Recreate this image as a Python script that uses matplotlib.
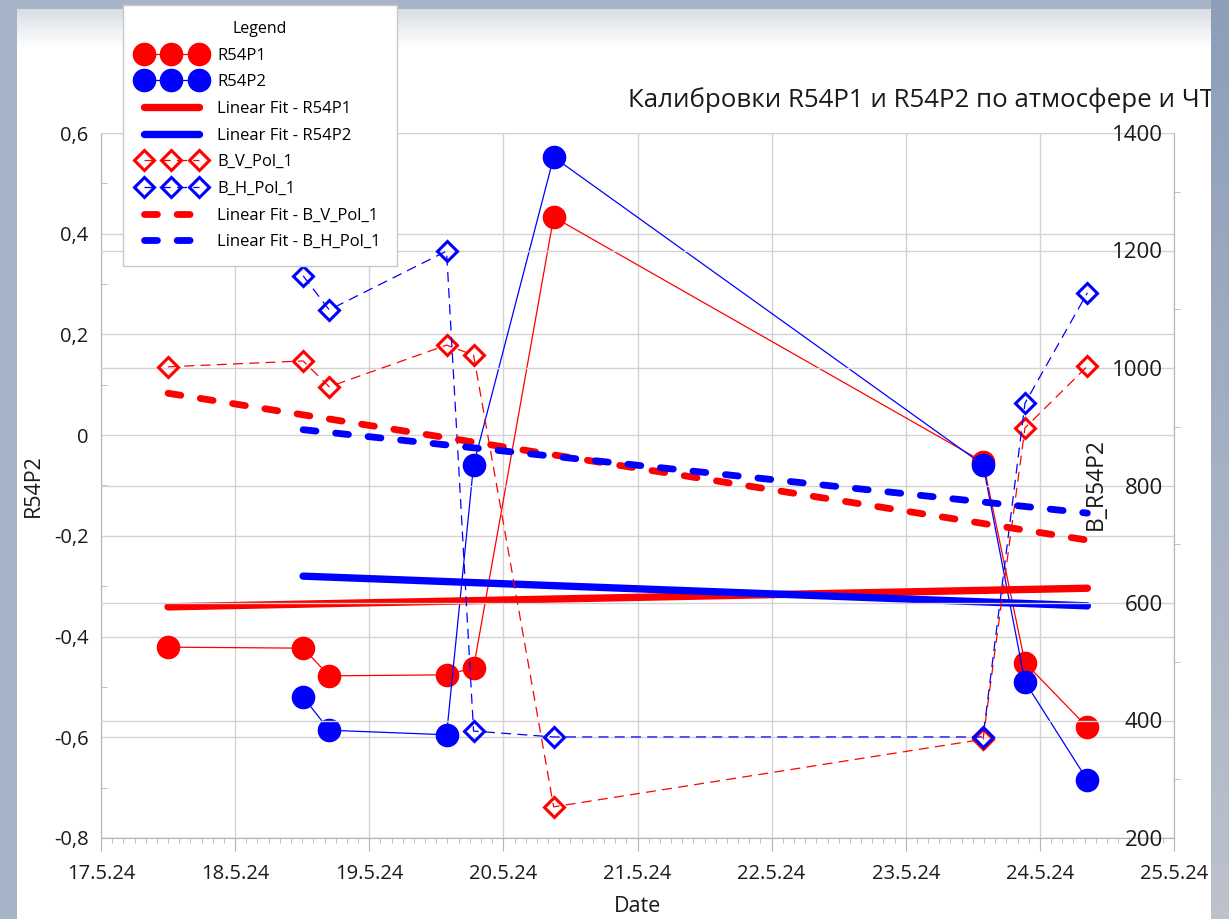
import matplotlib
matplotlib.use('Agg')
import matplotlib.pyplot as plt
import matplotlib.dates as mdates
import numpy as np
import pandas as pd
from matplotlib.ticker import MultipleLocator, FuncFormatter

# ---------------- data ----------------
r54p1_dates = ["2024-05-17 12:00", "2024-05-18 12:10", "2024-05-18 16:50",
               "2024-05-19 13:50", "2024-05-19 18:40", "2024-05-20 09:00",
               "2024-05-23 13:50", "2024-05-23 21:20", "2024-05-24 08:30"]
r54p1_values = [-0.421, -0.423, -0.478, -0.476, -0.462, 0.433, -0.053, -0.452, -0.580]

r54p2_dates = ["2024-05-18 12:10", "2024-05-18 16:50", "2024-05-19 13:50",
               "2024-05-19 18:40", "2024-05-20 09:00", "2024-05-23 13:50",
               "2024-05-23 21:20", "2024-05-24 08:30"]
r54p2_values = [-0.520, -0.586, -0.595, -0.059, 0.552, -0.059, -0.490, -0.685]

bv_dates = r54p1_dates
bv_values = [1002, 1012, 968, 1039, 1022, 253, 368, 898, 1003]

bh_dates = r54p2_dates
bh_values = [1157, 1099, 1199, 382, 372, 372, 940, 1128]

# linear-fit lines (start / end values)
fit_r54p1 = [-0.341, -0.304]
fit_r54p2 = [-0.280, -0.339]
fit_bv = [957, 707]
fit_bh = [895, 753]

x_start, x_end = "2024-05-17", "2024-05-25"
title = "Калибровки R54P1 и R54P2 по атмосфере и ЧТ"

RED = "#ff0000"
BLUE = "#0000ff"
FONT = ["Open Sans", "DejaVu Sans"]
plt.rcParams['font.family'] = FONT

W, H = 1229, 919
fig = plt.figure(figsize=(W / 100, H / 100), dpi=100)
fig.patch.set_facecolor("#a7b4c7")

# white page with light grey gradient at top
bg = fig.add_axes([17 / W, 0, (1211 - 17) / W, (H - 9) / H])
bg.set_zorder(-10)
grad = np.ones((400, 1, 3))
n = 16
top_col = np.array([0.85, 0.87, 0.90])
for i in range(n):
    t = i / n
    grad[i, 0, :] = top_col * (1 - t) + np.array([1, 1, 1]) * t
bg.imshow(grad, aspect='auto', extent=[0, 1, 0, 1], interpolation='bilinear')
bg.axis('off')

# right frame strip (covers title overflow)
rs = fig.add_axes([1211 / W, 0, (W - 1211) / W, 1])
rs.set_zorder(20)
rgrad = np.zeros((100, 1, 3))
for i in range(100):
    t = i / 99
    rgrad[i, 0, :] = np.array([0.55, 0.62, 0.73]) * (1 - t) + np.array([0.74, 0.76, 0.80]) * t
rs.imshow(rgrad, aspect='auto', extent=[0, 1, 0, 1])
rs.axis('off')

ax = fig.add_axes([101 / W, 1 - 838 / H, 1073 / W, 705 / H])
ax2 = ax.twinx()

d1 = pd.to_datetime(r54p1_dates)
d2 = pd.to_datetime(r54p2_dates)
dbv = pd.to_datetime(bv_dates)
dbh = pd.to_datetime(bh_dates)

h1, = ax.plot(d1, r54p1_values, '-o', color=RED, lw=0.9, ms=16, mec=RED, label="R54P1")
h2, = ax.plot(d2, r54p2_values, '-o', color=BLUE, lw=0.9, ms=16, mec=BLUE, label="R54P2")
h3, = ax.plot([d1[0], d1[-1]], fit_r54p1, '-', color=RED, lw=5.3,
              solid_capstyle='round', label="Linear Fit - R54P1")
h4, = ax.plot([d2[0], d2[-1]], fit_r54p2, '-', color=BLUE, lw=5.3,
              solid_capstyle='round', label="Linear Fit - R54P2")

h5, = ax2.plot(dbv, bv_values, 'D', ls=(0, (8, 5)), color=RED, lw=0.9, ms=10,
               mfc='none', mec=RED, mew=2.2, label="B_V_Pol_1")
h6, = ax2.plot(dbh, bh_values, 'D', ls=(0, (8, 5)), color=BLUE, lw=0.9, ms=10,
               mfc='none', mec=BLUE, mew=2.2, label="B_H_Pol_1")
h7, = ax2.plot([dbv[0], dbv[-1]], fit_bv, color=RED, lw=4.9, ls=(0, (1.9, 2.9)),
               dash_capstyle='round', label="Linear Fit - B_V_Pol_1")
h8, = ax2.plot([dbh[0], dbh[-1]], fit_bh, color=BLUE, lw=4.9, ls=(0, (1.9, 2.9)),
               dash_capstyle='round', label="Linear Fit - B_H_Pol_1")

# axes limits & ticks
ax.set_xlim(pd.Timestamp(x_start), pd.Timestamp(x_end))
ax.set_ylim(-0.8, 0.6)
ax2.set_ylim(200, 1400)

GRID = "#d3d3d3"
SPINE = "#b4b4b4"
TXT = "#1a1a1a"

ax.xaxis.set_major_locator(mdates.DayLocator())
ax.xaxis.set_minor_locator(mdates.HourLocator(byhour=range(0, 24, 2)))
def fmt_date(x, pos=None):
    d = mdates.num2date(x)
    return f"{d.day}.{d.month}.{d.strftime('%y')}"
ax.xaxis.set_major_formatter(FuncFormatter(fmt_date))

ax.yaxis.set_major_locator(MultipleLocator(0.2))
ax.yaxis.set_minor_locator(MultipleLocator(0.1))
def fmt_left(v, pos=None):
    s = f"{v:.1f}".replace('.', ',')
    if s in ("0,0", "-0,0"):
        s = "0"
    return s
ax.yaxis.set_major_formatter(FuncFormatter(fmt_left))

ax2.yaxis.set_major_locator(MultipleLocator(200))
ax2.yaxis.set_minor_locator(MultipleLocator(100))

ax.grid(True, which='major', color=GRID, lw=1.0)
ax2.grid(True, axis='y', which='major', color=GRID, lw=1.0)
ax.set_axisbelow(True)
ax2.set_axisbelow(True)

for a in (ax, ax2):
    for s in a.spines.values():
        s.set_color(SPINE)
ax.spines['top'].set_visible(False)
ax.spines['right'].set_visible(False)
ax2.spines['top'].set_visible(False)
ax2.spines['left'].set_visible(False)
ax2.spines['bottom'].set_visible(False)

ax.tick_params(axis='x', which='major', direction='out', length=9, color=SPINE,
               pad=10, labelsize=14.5, labelcolor=TXT)
ax.tick_params(axis='x', which='minor', direction='out', length=3.5, color=SPINE)
ax.tick_params(axis='y', which='major', length=0, pad=9, labelsize=14.5, labelcolor=TXT)
ax.tick_params(axis='y', which='minor', direction='in', length=4.5, color=SPINE)
ax2.tick_params(axis='y', which='major', direction='in', length=0, pad=-8,
                labelsize=16, labelcolor=TXT)
ax2.tick_params(axis='y', which='minor', direction='out', length=4, color=SPINE)
for lab in ax2.get_yticklabels():
    lab.set_horizontalalignment('right')

ax.set_xlabel("Date", fontsize=15.5, color=TXT, labelpad=8)
ax.set_ylabel("R54P2", fontsize=15.5, color=TXT, labelpad=7)
ax2.text((1096 - 101) / 1073, 0.502, "B_R54P2", transform=ax2.transAxes,
         rotation=90, ha='center', va='center', fontsize=16.5, color=TXT)

fig.text(628 / W, 1 - 100 / H, title, ha='left', va='center', fontsize=18.6,
         color=TXT, zorder=3)

handles = [h1, h2, h3, h4, h5, h6, h7, h8]
leg = fig.legend(handles, [h.get_label() for h in handles], loc='upper left',
                 bbox_to_anchor=(123 / W, 1 - 5 / H), title="Legend",
                 fontsize=12, title_fontsize=11.5, numpoints=3,
                 handlelength=3.9, handletextpad=0.8, labelspacing=0.64,
                 borderpad=0.95, frameon=True, fancybox=False,
                 edgecolor="#c8c8c8", framealpha=1, borderaxespad=0)
leg.get_frame().set_linewidth(1.0)
leg.set_zorder(30)

fig.savefig("out.png", dpi=100, facecolor=fig.get_facecolor())
